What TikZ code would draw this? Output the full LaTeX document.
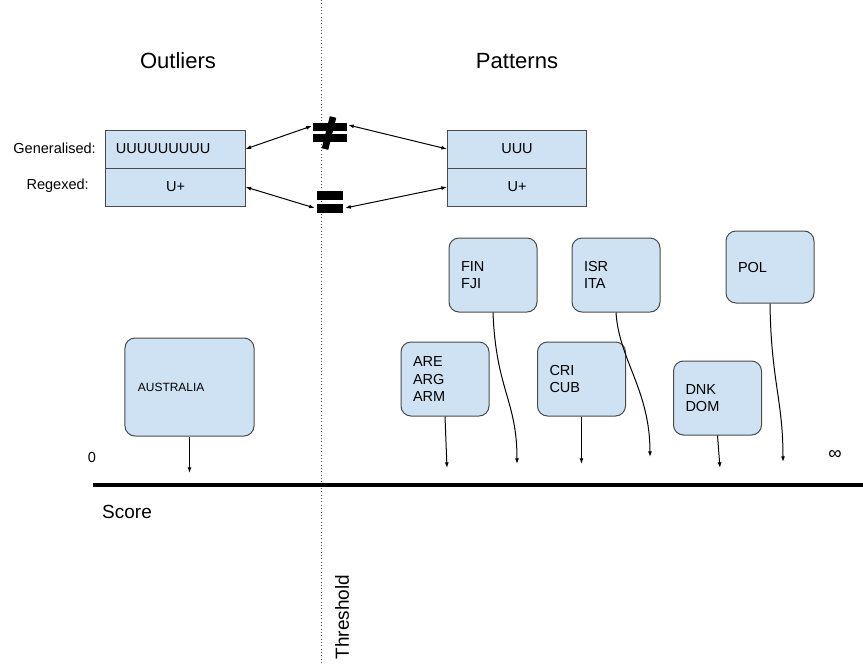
\documentclass[tikz,border=0pt]{standalone}
\usepackage{fontspec}
\setmainfont{Liberation Sans}
\usetikzlibrary{arrows.meta,positioning}
\definecolor{groupblue}{HTML}{CFE2F3}
\definecolor{edgegray}{HTML}{4A4A4A}
\begin{document}
\begin{tikzpicture}[x=0.03cm,y=-0.03cm,
    >={Latex[length=0.17cm,width=0.12cm]},
    country/.style={draw=edgegray,fill=groupblue,line width=0.03cm,rounded corners=0.3cm,align=left,text width=1.92cm,inner xsep=0.36cm,inner ysep=0pt,minimum height=2.22cm,font=\fontsize{12.4}{14.9}\selectfont},
    row/.style={draw=edgegray,fill=groupblue,line width=0.03cm,text width=3.57cm,inner xsep=0.3cm,inner ysep=0pt,minimum height=1.14cm,font=\fontsize{12.4}{14.9}\selectfont},
    rowlabel/.style={anchor=east,inner sep=0pt,font=\fontsize{12.4}{14.9}\selectfont},
    title/.style={font=\fontsize{18.8}{22}\selectfont},
    axislabel/.style={inner sep=0pt,font=\fontsize{16.2}{19}\selectfont},
    link/.style={<->,line width=0.03cm},
    vote/.style={->,line width=0.03cm}]
    \useasboundingbox (0,0) rectangle (863,663);
    % threshold
    \draw[dotted,edgegray,line width=0.03cm] (321,0) -- (321,663);
    \node[axislabel,rotate=90] (thr) at (342,617) {Threshold};
    % titles
    \node[title] (outl) at (178,61) {Outliers};
    \node[title] (patt) at (517,61) {Patterns};
    % the two tables
    \node[row,align=left] (outgen) at (175.5,149) {UUUUUUUUU};
    \node[row,align=center,below=-0.03cm of outgen] (outreg) {U+};
    \node[row,align=center] (patgen) at (517,149) {UUU};
    \node[row,align=center,below=-0.03cm of patgen] (patreg) {U+};
    \node[rowlabel] (genlab) at (96,148) {Generalised:};
    \node[rowlabel] (reglab) at (89,186) {Regexed:};
    % not equal / equal
    \node[minimum width=1.08cm,minimum height=0.96cm,inner sep=0pt] (neq) at (330,133) {};
    \fill (313,123) rectangle (347,131);
    \fill (313,134) rectangle (347,142);
    \draw[line width=0.2cm] (333,117) -- (325,149);
    \node[minimum width=0.9cm,minimum height=0.72cm,inner sep=0pt] (eq) at (330,202) {};
    \fill (317,191) rectangle (343,200);
    \fill (317,204) rectangle (343,213);
    \draw[link] (outgen.east) -- ([yshift=0.21cm]neq.west);
    \draw[link] ([yshift=0.24cm]neq.east) -- (patgen.west);
    \draw[link] (outreg.east) -- ([yshift=-0.18cm]eq.west);
    \draw[link] ([yshift=-0.18cm]eq.east) -- (patreg.west);
    % groups
    \node[country,text width=3.09cm,inner xsep=0.39cm,minimum height=2.94cm,font=\fontsize{10.2}{12}\selectfont] (aus) at (189.5,387) {AUSTRALIA};
    \node[country] (are) at (445,379) {ARE\\ARG\\ARM};
    \node[country] (fin) at (493,275) {FIN\\FJI};
    \node[country] (isr) at (616,275) {ISR\\ITA};
    \node[country] (cri) at (581.5,379) {CRI\\CUB};
    \node[country] (dnk) at (717.5,398) {DNK\\DOM};
    \node[country,minimum height=2.16cm] (pol) at (770,267) {POL};
    % score axis
    \coordinate (ax0) at (93,485);
    \coordinate (ax1) at (863,485);
    \draw[line width=0.12cm] (ax0) -- (ax1);
    \node[inner sep=0pt,font=\fontsize{12.4}{14.9}\selectfont] (zero) at (92,457) {0};
    \node[inner sep=0pt,font=\fontsize{16}{18}\selectfont] (inf) at (835,455) {∞};
    \node[axislabel,anchor=west] (score) at (102,512) {Score};
    \coordinate (sAUS) at (189.5,473);
    \coordinate (sARE) at (447,468);
    \coordinate (sFIN) at (517,464);
    \coordinate (sCRI) at (581.5,464);
    \coordinate (sISR) at (650,457);
    \coordinate (sDNK) at (720,468);
    \coordinate (sPOL) at (783,462);
    \draw[vote] (aus) -- (sAUS);
    \draw[vote] (are.south) -- (sARE);
    \draw[vote] (cri.south) -- (sCRI);
    \draw[vote] (dnk.south) -- (sDNK);
    \draw[vote] (fin.south) .. controls (496,390) and (517,400) .. (sFIN);
    \draw[vote] (isr.south) .. controls (619,360) and (650,390) .. (sISR);
    \draw[vote] (pol.south) .. controls (771,380) and (783,400) .. (sPOL);
\end{tikzpicture}
\end{document}
